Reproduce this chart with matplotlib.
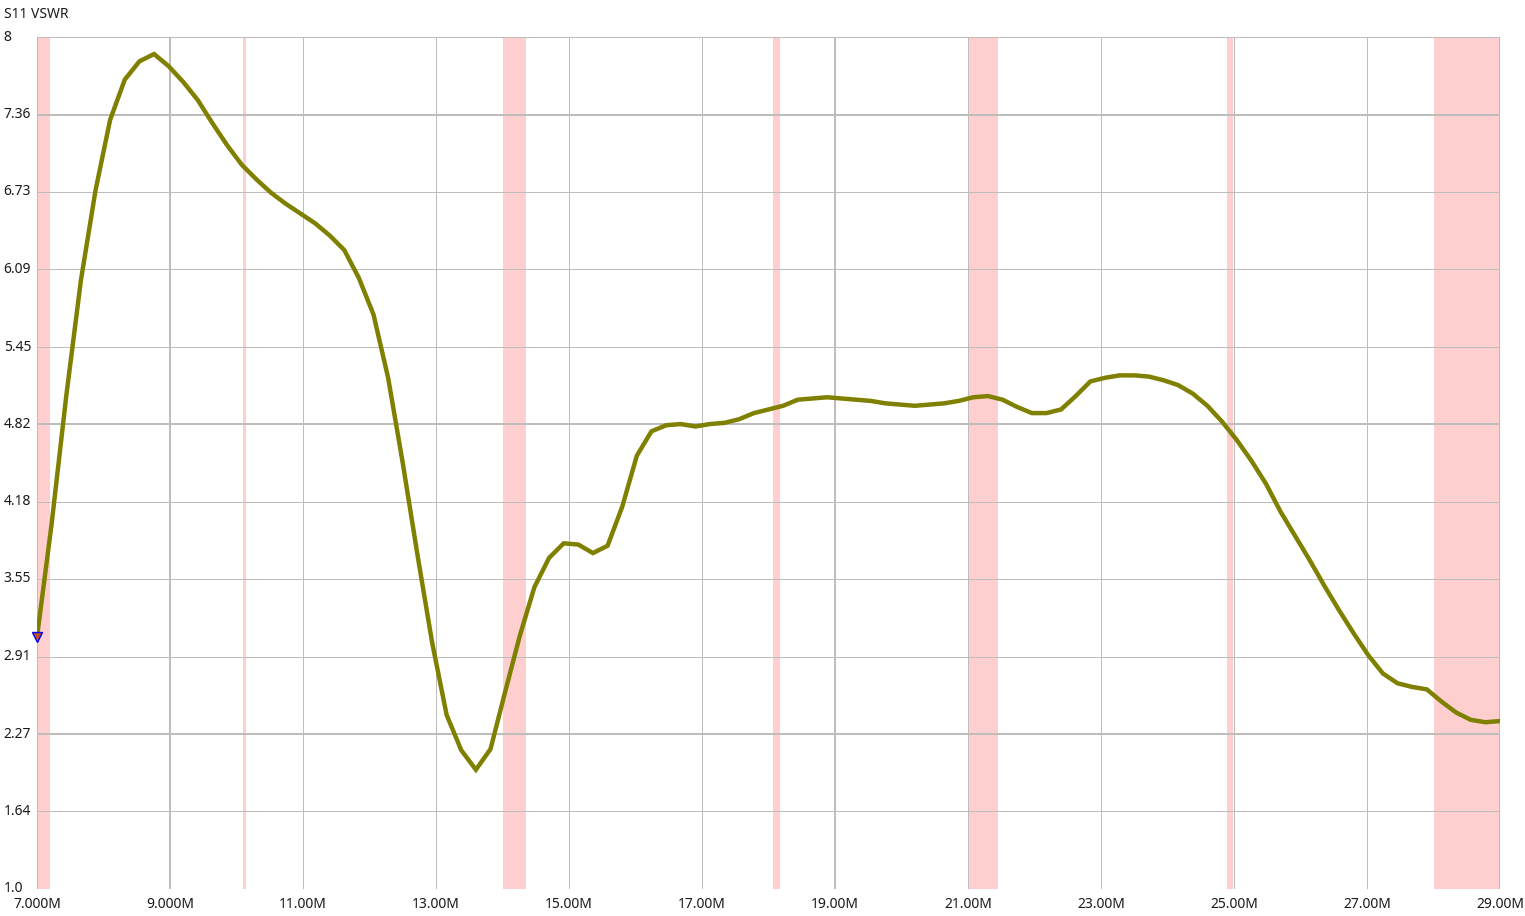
import numpy as np
import matplotlib
matplotlib.use("Agg")
import matplotlib.pyplot as plt

# Sweep: 101 points, 7 MHz to 29 MHz
freq_mhz = np.linspace(7.0, 29.0, 101)
vswr = [
    3.07, 4.00, 5.05, 6.00, 6.74, 7.32, 7.65, 7.80, 7.86, 7.76,
    7.63, 7.48, 7.29, 7.11, 6.95, 6.83, 6.72, 6.63, 6.55, 6.47,
    6.37, 6.25, 6.02, 5.72, 5.20, 4.50, 3.75, 3.03, 2.43, 2.14,
    1.98, 2.15, 2.62, 3.08, 3.48, 3.72, 3.84, 3.83, 3.76, 3.82,
    4.14, 4.56, 4.76, 4.81, 4.82, 4.80, 4.82, 4.83, 4.86, 4.91,
    4.94, 4.97, 5.02, 5.03, 5.04, 5.03, 5.02, 5.01, 4.99, 4.98,
    4.97, 4.98, 4.99, 5.01, 5.04, 5.05, 5.02, 4.96, 4.91, 4.91,
    4.94, 5.05, 5.17, 5.20, 5.22, 5.22, 5.21, 5.18, 5.14, 5.07,
    4.97, 4.84, 4.69, 4.52, 4.33, 4.10, 3.90, 3.70, 3.49, 3.29,
    3.10, 2.92, 2.77, 2.69, 2.66, 2.64, 2.54, 2.45, 2.39, 2.37,
    2.38,
]

# ham bands shaded in pink (MHz)
band_start = [7.0, 10.1, 14.0, 18.068, 21.0, 24.89, 28.0]
band_end = [7.2, 10.15, 14.35, 18.168, 21.45, 24.99, 29.7]

y_ticks = [1.0, 1.64, 2.27, 2.91, 3.55, 4.18, 4.82, 5.45, 6.09, 6.73, 7.36, 8]
y_tick_labels = ['1.0', '1.64', '2.27', '2.91', '3.55', '4.18', '4.82',
                 '5.45', '6.09', '6.73', '7.36', '8']
x_ticks = [7, 9, 11, 13, 15, 17, 19, 21, 23, 25, 27, 29]
x_tick_labels = ['7.000M', '9.000M', '11.00M', '13.00M', '15.00M', '17.00M',
                 '19.00M', '21.00M', '23.00M', '25.00M', '27.00M', '29.00M']
thick_x = [9, 19, 29]
thick_y = [2.27, 4.82, 7.36]

plt.rcParams['font.family'] = ['Noto Sans', 'DejaVu Sans']

fig = plt.figure(figsize=(15.25, 9.16), dpi=100)
ax = fig.add_axes([37 / 1525, 1 - 889 / 916, 1463 / 1525, 852 / 916])

ax.set_xlim(7, 29)
ax.set_ylim(1.0, 8.0)

for s, e in zip(band_start, band_end):
    ax.axvspan(s, min(e, 29), color='#ffcfcf', lw=0, zorder=0)

# grid
for x in x_ticks:
    lw = 2 if x in thick_x else 1
    ax.axvline(x, color='#bdbdbd', lw=lw * 0.72, zorder=1)
for y in y_ticks:
    lw = 2 if y in thick_y else 1
    ax.axhline(y, color='#bdbdbd', lw=lw * 0.72, zorder=1)

ax.plot(freq_mhz, vswr, color='#808000', lw=3.2, zorder=3,
        solid_joinstyle='miter')

# marker at sweep start
ax.plot(freq_mhz[0], vswr[0], marker='v', markersize=7,
        markerfacecolor='#c0501a', markeredgecolor='blue',
        markeredgewidth=1.0, zorder=4, clip_on=False)

ax.set_xticks(x_ticks)
ax.set_xticklabels(x_tick_labels)
ax.set_yticks(y_ticks)
ax.set_yticklabels(y_tick_labels)
ax.tick_params(axis='both', length=0, labelsize=10, colors='#1a1a1a')
ax.tick_params(axis='x', pad=6)
ax.tick_params(axis='y', pad=24)
for lab in ax.get_yticklabels():
    lab.set_horizontalalignment('left')
    lab.set_verticalalignment('center')

for sp in ax.spines.values():
    sp.set_visible(False)

fig.text(4 / 1525, 1 - 14 / 916, 'S11 VSWR', fontsize=10, color='#1a1a1a',
         ha='left', va='center')

fig.savefig('out.png', dpi=100)
